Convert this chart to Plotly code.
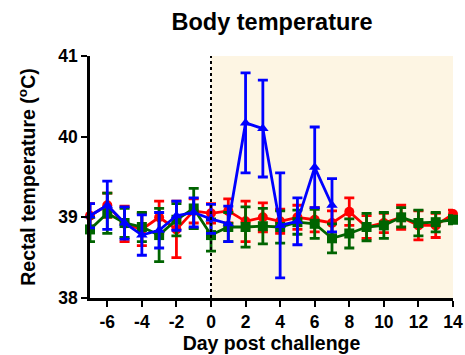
import plotly.graph_objects as go

days_all = list(range(-7, 15))
days_blue = list(range(-7, 8))

red_mean = [39.02, 39.15, 38.92, 38.85, 39.0, 38.85, 39.08, 39.05, 39.08, 38.95, 39.0, 38.95, 39.0, 38.97, 38.93, 39.07, 38.88, 38.93, 39.0, 38.9, 38.9, 39.04]
red_err = [0.15, 0.15, 0.22, 0.2, 0.2, 0.35, 0.15, 0.12, 0.15, 0.25, 0.18, 0.15, 0.15, 0.15, 0.15, 0.17, 0.14, 0.12, 0.15, 0.18, 0.15, 0.05]

green_mean = [38.85, 39.05, 38.93, 38.88, 38.78, 38.97, 39.11, 38.78, 38.88, 38.88, 38.89, 38.88, 38.94, 38.92, 38.74, 38.8, 38.88, 38.9, 39.0, 38.93, 38.94, 38.97]
green_err = [0.15, 0.25, 0.18, 0.18, 0.33, 0.2, 0.25, 0.2, 0.18, 0.25, 0.22, 0.2, 0.15, 0.18, 0.18, 0.18, 0.17, 0.16, 0.12, 0.16, 0.12, 0.05]

blue_mean = [39.02, 39.15, 38.93, 38.78, 38.84, 39.02, 39.06, 38.98, 38.92, 40.17, 40.1, 38.9, 38.95, 39.62, 39.15]
blue_err = [0.15, 0.3, 0.2, 0.25, 0.22, 0.18, 0.18, 0.18, 0.22, 0.62, 0.6, 0.65, 0.29, 0.5, 0.33]

x_ticks = [-6, -4, -2, 0, 2, 4, 6, 8, 10, 12, 14]
y_ticks = [38, 39, 40, 41]

fig = go.Figure()

fig.add_shape(type="rect", xref="x", yref="y", x0=0, x1=14.1, y0=38, y1=41,
              fillcolor="#FDF5E3", line_width=0, layer="below")
fig.add_shape(type="line", xref="x", yref="y", x0=0, x1=0, y0=38, y1=41,
              line=dict(color="black", width=2, dash="dot"))

def add_series(x, y, e, color, symbol, size):
    fig.add_trace(go.Scatter(
        x=x, y=y, mode="lines+markers",
        line=dict(color=color, width=2.8),
        marker=dict(color=color, symbol=symbol, size=size),
        error_y=dict(type="data", array=e, visible=True, color=color, thickness=2.8, width=5),
        cliponaxis=False, showlegend=False))

add_series(days_all, red_mean, red_err, "#FF0000", "circle", 10)
add_series(days_all, green_mean, green_err, "#006400", "square", 10)
add_series(days_blue, blue_mean, blue_err, "#0000FF", "triangle-up", 10)

fig.update_layout(
    width=465, height=355,
    margin=dict(l=90, r=12, t=56, b=57),
    paper_bgcolor="white", plot_bgcolor="white",
    font=dict(family="Liberation Sans, Arial, sans-serif", color="black"),
    title=dict(text="<b>Body temperature</b>", x=0.585, xanchor="center", y=0.94, yanchor="middle",
               font=dict(size=23.5, color="black")),
)
fig.update_xaxes(range=[-7, 14], tickvals=x_ticks, ticktext=[f"<b>{v}</b>" for v in x_ticks],
                 showgrid=False, zeroline=False, showline=True, linecolor="black", linewidth=2.5,
                 ticks="outside", ticklen=6, tickwidth=2, tickcolor="black",
                 tickfont=dict(size=17.5), automargin=False,
                 title=dict(text="<b>Day post challenge</b>", font=dict(size=19.5), standoff=0))
fig.update_yaxes(range=[38, 41], tickvals=y_ticks, ticktext=[f"<b>{v}</b>" for v in y_ticks],
                 showgrid=False, zeroline=False, showline=True, linecolor="black", linewidth=2.5,
                 ticks="outside", ticklen=6, tickwidth=2, tickcolor="black",
                 tickfont=dict(size=17.5), automargin=False,
                 title=dict(text="<b>Rectal temperature (<sup>o</sup>C)</b>", font=dict(size=19.5), standoff=18))

fig.write_html("out.html", config={"displayModeBar": False},
               post_script="document.body.style.margin='0';")
